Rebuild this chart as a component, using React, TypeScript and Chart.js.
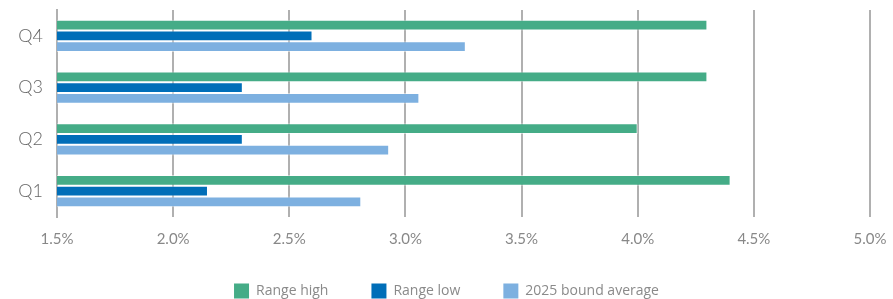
import React, { useEffect, useRef } from "react";
import { Chart, registerables } from "chart.js";

Chart.register(...registerables);

const categories = ["Q4", "Q3", "Q2", "Q1"];
const rangeHigh = [4.3, 4.3, 4.0, 4.4];
const rangeLow = [2.6, 2.3, 2.3, 2.15];
const boundAverage = [3.26, 3.06, 2.93, 2.81];
const seriesNames = ["Range high", "Range low", "2025 bound average"];
const seriesColors = ["#45ac87", "#006eb8", "#7db0e0"];
const xTicks = [1.5, 2.0, 2.5, 3.0, 3.5, 4.0, 4.5, 5.0];

const bottomLegend = {
  id: "bottomLegend",
  afterDraw(chart: any) {
    const ctx = chart.ctx as CanvasRenderingContext2D;
    const box = 15;
    const gapText = 7;
    const gapItem = 43;
    const cy = 291;
    ctx.save();
    ctx.font = "14px 'Open Sans', sans-serif";
    ctx.textBaseline = "middle";
    const items = chart.data.datasets.map((ds: any) => ({
      label: ds.label,
      color: ds.backgroundColor,
      w: ctx.measureText(ds.label).width,
    }));
    const total = items.reduce((s: number, it: any) => s + box + gapText + it.w, 0) + gapItem * (items.length - 1);
    let x = (chart.width - total) / 2;
    for (const it of items) {
      ctx.fillStyle = it.color;
      ctx.fillRect(x, cy - box / 2, box, box);
      ctx.fillStyle = "#8a8a8a";
      ctx.textAlign = "left";
      ctx.fillText(it.label, x + box + gapText, cy);
      x += box + gapText + it.w + gapItem;
    }
    ctx.restore();
  },
};

export default function App() {
  const ref = useRef<HTMLCanvasElement | null>(null);
  useEffect(() => {
    document.body.style.margin = "0";
    const ctx = ref.current!;
    const chart = new Chart(ctx, {
      type: "bar",
      data: {
        labels: categories,
        datasets: [
          { label: seriesNames[0], data: rangeHigh, backgroundColor: seriesColors[0], borderColor: "rgba(255,255,255,0.5)", borderWidth: 1, borderSkipped: "start" },
          { label: seriesNames[1], data: rangeLow, backgroundColor: seriesColors[1], borderColor: "rgba(255,255,255,0.5)", borderWidth: 1, borderSkipped: "start" },
          { label: seriesNames[2], data: boundAverage, backgroundColor: seriesColors[2], borderColor: "rgba(255,255,255,0.5)", borderWidth: 1, borderSkipped: "start" },
        ],
      },
      options: {
        indexAxis: "y",
        responsive: false,
        animation: false,
        layout: { padding: { top: 10, right: 23, left: 8, bottom: 0 } },
        datasets: { bar: { categoryPercentage: 0.62, barPercentage: 1 } },
        scales: {
          x: {
            type: "linear",
            min: 1.5,
            max: 5.0,
            afterBuildTicks: (axis: any) => {
              axis.ticks = xTicks.map((v) => ({ value: v }));
            },
            afterFit: (axis: any) => {
              axis.height = 82;
              axis.paddingLeft = 0;
              axis.paddingRight = 0;
            },
            grid: { color: "#b0b0b0", lineWidth: 2, drawTicks: false },
            border: { display: false },
            ticks: {
              padding: 13,
              color: "#888",
              font: { family: "Lato, sans-serif", size: 15 },
              callback: (v: any) => Number(v).toFixed(1) + "%",
            },
          },
          y: {
            afterFit: (axis: any) => {
              axis.width = 49;
              axis.paddingTop = 0;
              axis.paddingBottom = 0;
            },
            grid: { display: false },
            border: { display: true, color: "#b0b0b0", width: 2 },
            ticks: {
              padding: 6,
              color: "#666",
              font: { family: "Lato, sans-serif", size: 18, weight: "300" },
            },
          },
        },
        plugins: {
          legend: { display: false },
          tooltip: { enabled: false },
        },
      },
      plugins: [bottomLegend],
    });
    return () => chart.destroy();
  }, []);
  return <canvas ref={ref} width={893} height={299} style={{ display: "block" }} />;
}
